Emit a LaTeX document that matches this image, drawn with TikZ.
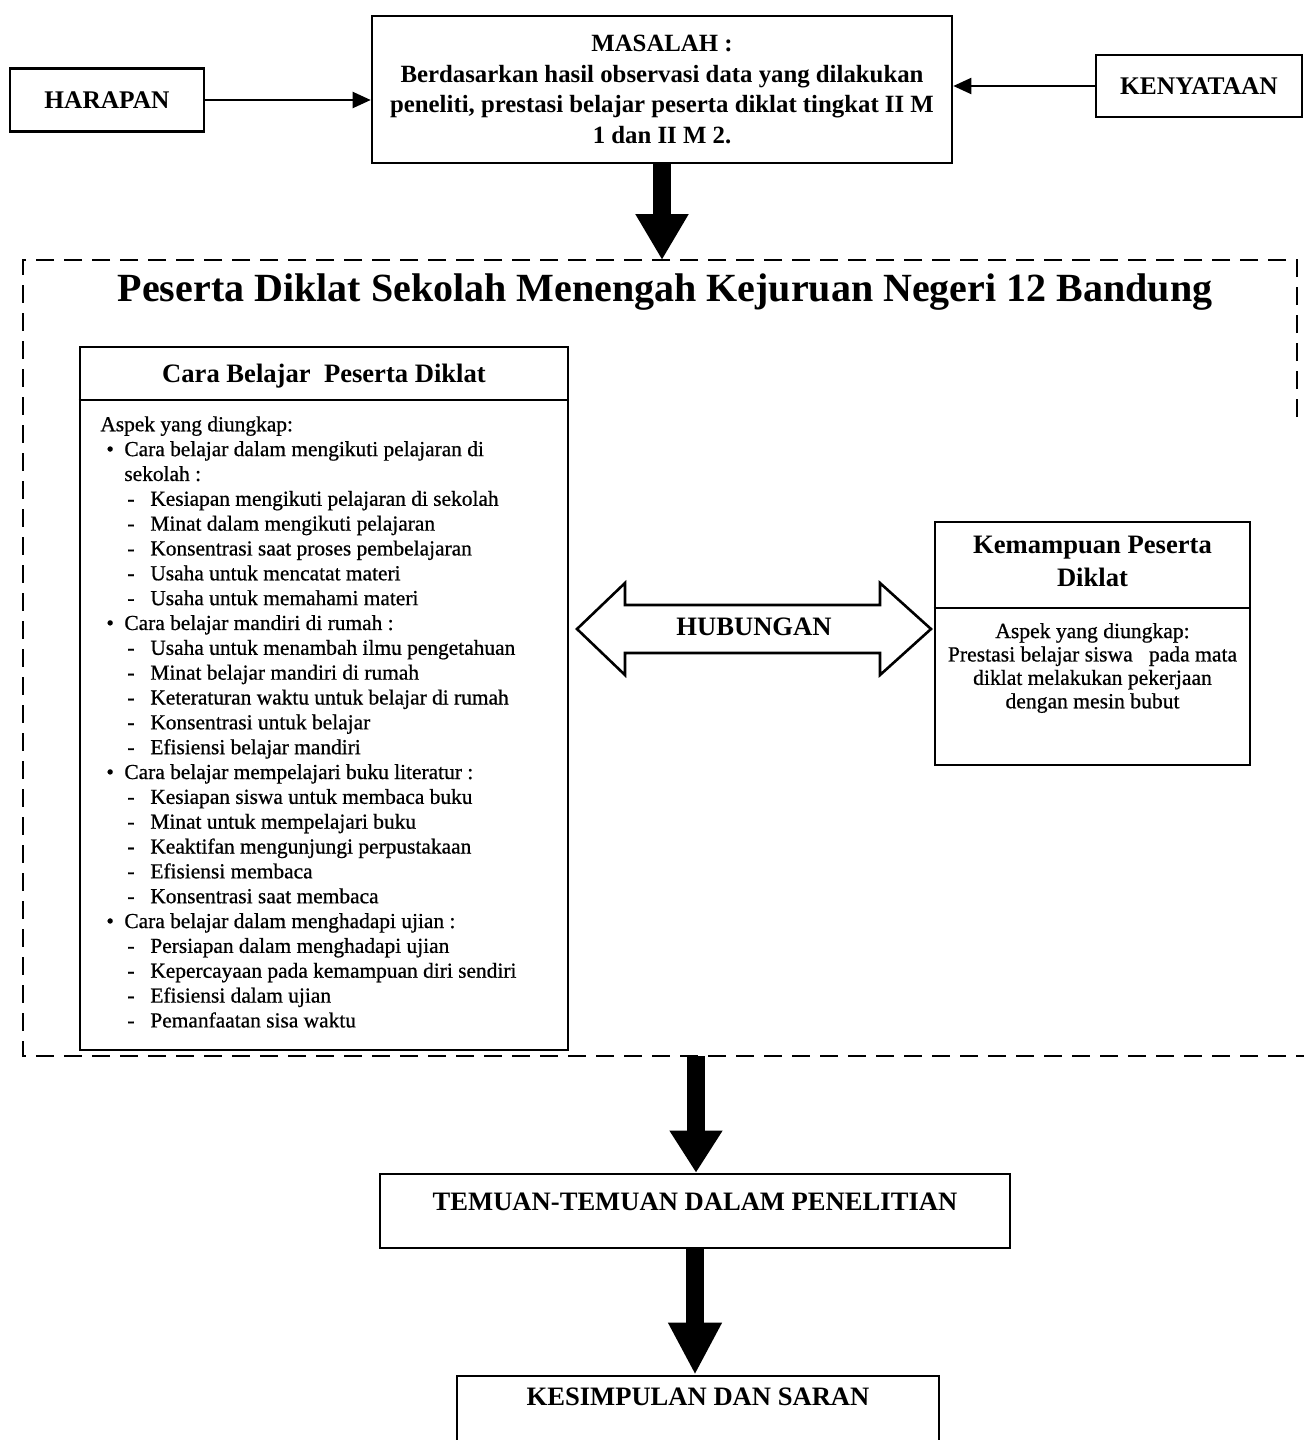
\documentclass[tikz,border=0pt]{standalone}
\usepackage{fontspec}
\setmainfont{Liberation Serif}
\newfontfamily\heavyserif[FakeBold=0.7]{Liberation Serif}
\usetikzlibrary{arrows.meta}
\newcommand\setfs[2]{\fontsize{#1}{#2}\selectfont}
\newcommand\myb{\hspace*{3pt}\makebox[9pt][l]{\textbullet}}
\newcommand\myd{\hspace*{13.5pt}\makebox[11.5pt][l]{-}}
\newcommand\myc{\hspace*{12pt}}
\begin{document}
\begin{tikzpicture}[x=0.5pt,y=-0.5pt,
  box/.style={draw, line width=1.3pt, inner sep=0pt},
  thinarrow/.style={line width=1pt, -{Triangle[length=9pt,width=8pt]}},
  fatarrow/.style={line width=9pt, -{Triangle[length=#1,width=25pt]}},
  hd/.style={font=\setfs{12.7}{15}\bfseries},
  bigtitle/.style={font=\setfs{13.3}{16.5}\bfseries},
  container/.style={line width=1.3pt, dash pattern=on 9pt off 5pt}
]
\useasboundingbox (0,0) rectangle (1304,1440);
\clip (0,0) rectangle (1304,1440);

% top row
\node[box, hd, minimum width=97pt, minimum height=31.5pt] (har) at (107,100) {HARAPAN};
\node[box, minimum width=290pt, minimum height=73.5pt, align=center,
      font=\setfs{12.4}{15.4}\bfseries] (mas) at (662,89.5)
  {MASALAH :\\Berdasarkan hasil observasi data yang dilakukan\\peneliti, prestasi belajar peserta diklat tingkat II M\\1 dan II M 2.};
\node[box, hd, minimum width=103pt, minimum height=31pt] (ken) at (1199,86) {KENYATAAN};
\draw[thinarrow] (har.east) -- (har.east -| mas.west);
\draw[thinarrow] (ken.west) -- (ken.west -| mas.east);

% container
\draw[container] (1297,417) -- (1297,260) -- (23,260) -- (23,1056) -- (1304,1056);
\coordinate (ctop) at (662,260);
\coordinate (cbot) at (696,1056);
\draw[fatarrow=23pt] (mas.south) -- (ctop);

\node[font=\setfs{20}{24}\bfseries] (title) at (665,292)
  {Peserta Diklat Sekolah Menengah Kejuruan Negeri 12 Bandung};

% left box
\node[box, minimum width=244pt, minimum height=351.5pt] (cb) at (324,698.5) {};
\coordinate (cbdiv) at (0,400);
\draw[line width=1.3pt] (cb.west |- cbdiv) -- (cb.east |- cbdiv);
\node[bigtitle] (cbtitle) at (324,376) {Cara Belajar\ \ Peserta Diklat};
\node[anchor=north west, inner sep=0pt, align=left, font=\heavyserif\setfs{10.7}{12.42}] (cbbody) at (100,416)
  {Aspek yang diungkap:\\
   \myb Cara belajar dalam mengikuti pelajaran di\\
   \myc sekolah :\\
   \myd Kesiapan mengikuti pelajaran di sekolah\\
   \myd Minat dalam mengikuti pelajaran\\
   \myd Konsentrasi saat proses pembelajaran\\
   \myd Usaha untuk mencatat materi\\
   \myd Usaha untuk memahami materi\\
   \myb Cara belajar mandiri di rumah :\\
   \myd Usaha untuk menambah ilmu pengetahuan\\
   \myd Minat belajar mandiri di rumah\\
   \myd Keteraturan waktu untuk belajar di rumah\\
   \myd Konsentrasi untuk belajar\\
   \myd Efisiensi belajar mandiri\\
   \myb Cara belajar mempelajari buku literatur :\\
   \myd Kesiapan siswa untuk membaca buku\\
   \myd Minat untuk mempelajari buku\\
   \myd Keaktifan mengunjungi perpustakaan\\
   \myd Efisiensi membaca\\
   \myd Konsentrasi saat membaca\\
   \myb Cara belajar dalam menghadapi ujian :\\
   \myd Persiapan dalam menghadapi ujian\\
   \myd Kepercayaan pada kemampuan diri sendiri\\
   \myd Efisiensi dalam ujian\\
   \myd Pemanfaatan sisa waktu};

% right box
\node[box, minimum width=157.5pt, minimum height=121.5pt] (kp) at (1092.5,643.5) {};
\coordinate (kpdiv) at (0,608);
\draw[line width=1.3pt] (kp.west |- kpdiv) -- (kp.east |- kpdiv);
\node[bigtitle, align=center] (kptitle) at (1092.5,561.5) {Kemampuan Peserta\\Diklat};
\node[align=center, font=\heavyserif\setfs{10.8}{11.7}] (kpbody) at (1092.5,668)
  {Aspek yang diungkap:\\Prestasi belajar siswa\ \ \ pada mata\\diklat melakukan pekerjaan\\dengan mesin bubut};

% double arrow
\draw[line width=1.3pt, line join=miter] (577,629) -- (625,583) -- (625,605) -- (880,605) -- (880,583) -- (931,629)
  -- (880,675) -- (880,653) -- (625,653) -- (625,675) -- cycle;
\node[bigtitle] (hub) at (754,627) {HUBUNGAN};

% bottom
\node[box, minimum width=315pt, minimum height=37pt] (tem) at (695,1211) {};
\node[bigtitle] (temt) at (695,1202) {TEMUAN-TEMUAN DALAM PENELITIAN};
\node[box, minimum width=241pt, minimum height=50pt] (kes) at (698,1426) {};
\node[bigtitle] (kest) at (698,1397) {KESIMPULAN DAN SARAN};
\draw[fatarrow=21pt] (cbot) -- (cbot |- tem.north);
\draw[fatarrow=26pt] (tem.south) -- (tem.south |- kes.north);
\end{tikzpicture}
\end{document}
